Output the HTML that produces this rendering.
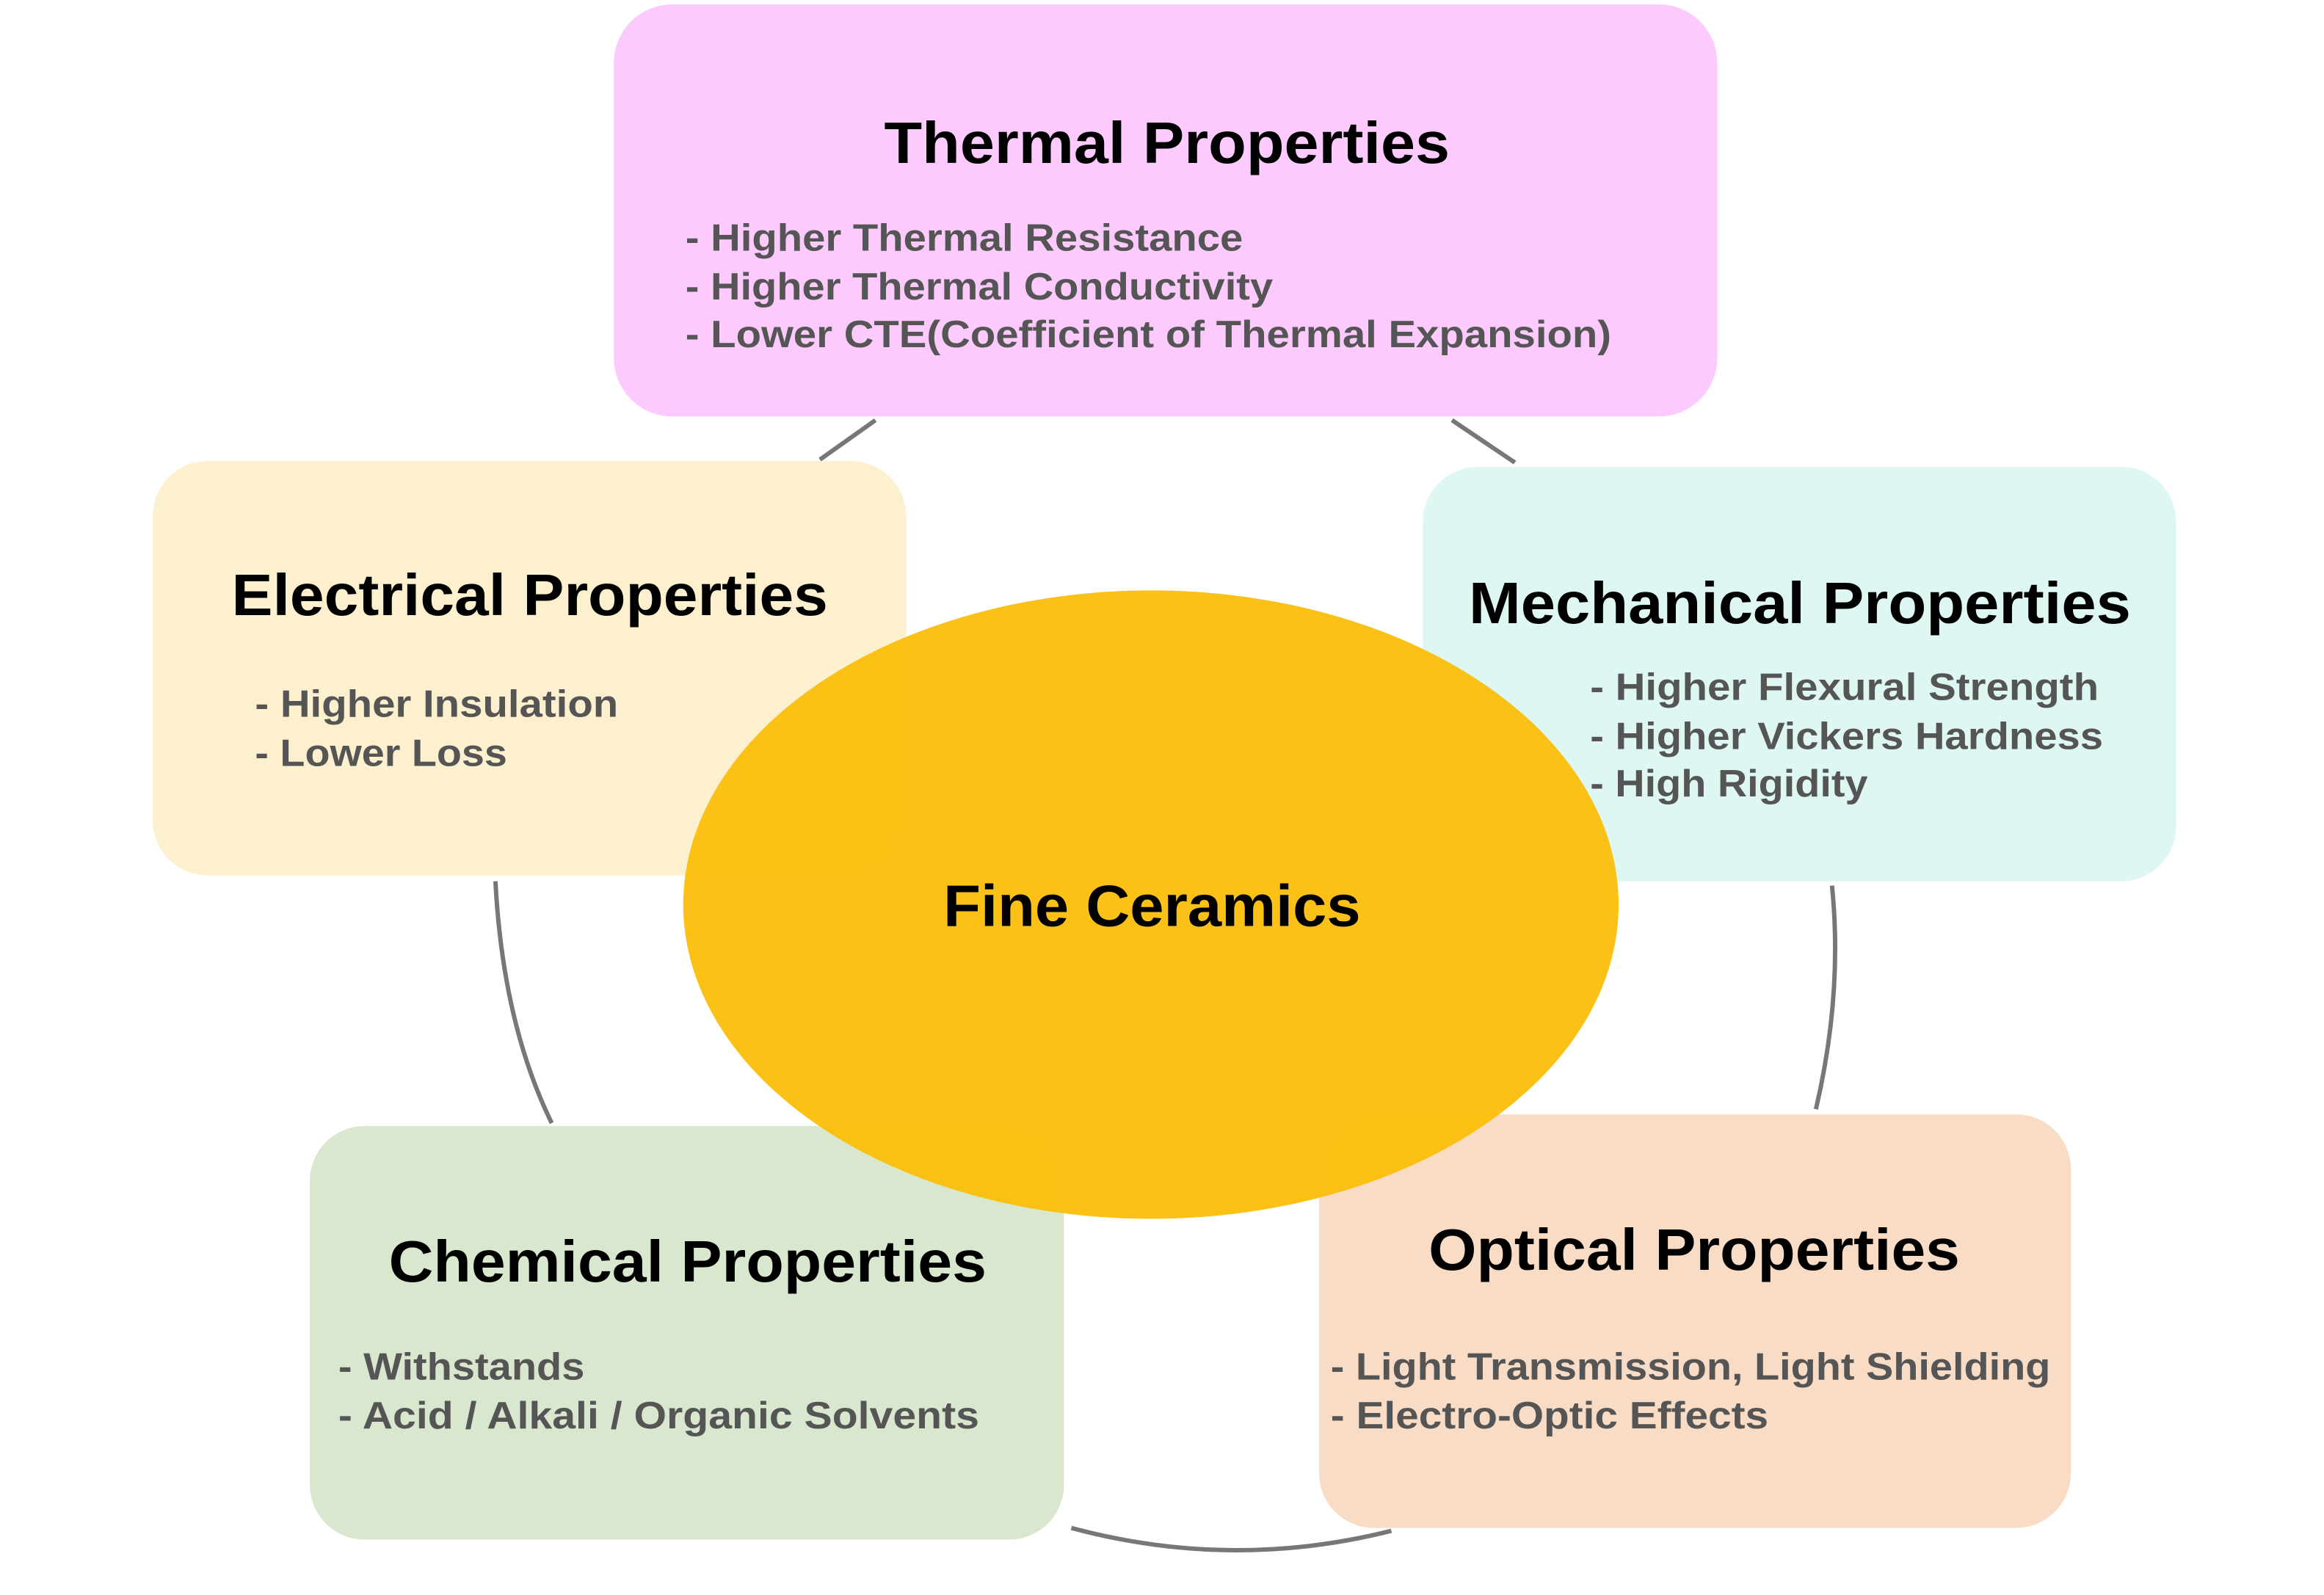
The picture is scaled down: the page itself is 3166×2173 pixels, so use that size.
<!DOCTYPE html>
<html><head><meta charset="utf-8"><style>
html,body{margin:0;padding:0;background:#fff;}
svg{display:block;}
.t{font-family:"Liberation Sans","Noto Sans CJK JP",sans-serif;font-weight:bold;fill:#000;font-size:80px;}
.b{font-family:"Liberation Sans","Noto Sans CJK JP",sans-serif;font-weight:bold;fill:#555;font-size:52px;}
</style></head><body>
<svg width="3166" height="2173" viewBox="0 0 3166 2173" xmlns="http://www.w3.org/2000/svg">
<g transform="scale(0.9955)">
<g fill="none" stroke="#777" stroke-width="6">
<path d="M1122,629 L1198,575"/>
<path d="M1987,575 L2073,633"/>
<path d="M2507,1212 Q2522,1360 2485,1518"/>
<path d="M1904,2095 Q1685,2150 1466,2091"/>
<path d="M755,1537 Q688,1400 678,1206"/>
</g>
<rect x="840" y="6" width="1510" height="564" rx="80" fill="#fccafc"/>
<rect x="209" y="631" width="1031" height="567" rx="75" fill="#fdf0cf"/>
<rect x="1947" y="639" width="1031" height="567" rx="75" fill="#dff7f3"/>
<rect x="424" y="1541" width="1032" height="566" rx="75" fill="#d8e7cd"/>
<rect x="1805" y="1525" width="1029" height="566" rx="75" fill="#f9dcc6"/>
<ellipse cx="1575" cy="1238" rx="640" ry="430" fill="#fbbf0e" fill-opacity="0.97"/>

<text class="t" x="1210" y="223" textLength="774" lengthAdjust="spacingAndGlyphs">Thermal Properties</text>
<text class="b" x="938" y="343" textLength="763" lengthAdjust="spacingAndGlyphs">- Higher Thermal Resistance</text>
<text class="b" x="938" y="410" textLength="804" lengthAdjust="spacingAndGlyphs">- Higher Thermal Conductivity</text>
<text class="b" x="938" y="475" textLength="1267" lengthAdjust="spacingAndGlyphs">- Lower CTE(Coefficient of Thermal Expansion)</text>

<text class="t" x="317" y="842" textLength="816" lengthAdjust="spacingAndGlyphs">Electrical Properties</text>
<text class="b" x="349" y="981" textLength="497" lengthAdjust="spacingAndGlyphs">- Higher Insulation</text>
<text class="b" x="349" y="1048" textLength="345" lengthAdjust="spacingAndGlyphs">- Lower Loss</text>

<text class="t" x="2010" y="853" textLength="906" lengthAdjust="spacingAndGlyphs">Mechanical Properties</text>
<text class="b" x="2176" y="958" textLength="696" lengthAdjust="spacingAndGlyphs">- Higher Flexural Strength</text>
<text class="b" x="2176" y="1025" textLength="702" lengthAdjust="spacingAndGlyphs">- Higher Vickers Hardness</text>
<text class="b" x="2176" y="1090" textLength="380" lengthAdjust="spacingAndGlyphs">- High Rigidity</text>

<text class="t" x="532" y="1754" textLength="818" lengthAdjust="spacingAndGlyphs">Chemical Properties</text>
<text class="b" x="463" y="1888" textLength="337" lengthAdjust="spacingAndGlyphs">- Withstands</text>
<text class="b" x="463" y="1955" textLength="877" lengthAdjust="spacingAndGlyphs">- Acid / Alkali / Organic Solvents</text>

<text class="t" x="1955" y="1738" textLength="727" lengthAdjust="spacingAndGlyphs">Optical Properties</text>
<text class="b" x="1821" y="1888" textLength="985" lengthAdjust="spacingAndGlyphs">- Light Transmission, Light Shielding</text>
<text class="b" x="1821" y="1955" textLength="599" lengthAdjust="spacingAndGlyphs">- Electro-Optic Effects</text>

<text class="t" x="1291" y="1267" textLength="571" lengthAdjust="spacingAndGlyphs">Fine Ceramics</text>
</g>
</svg>
</body></html>
